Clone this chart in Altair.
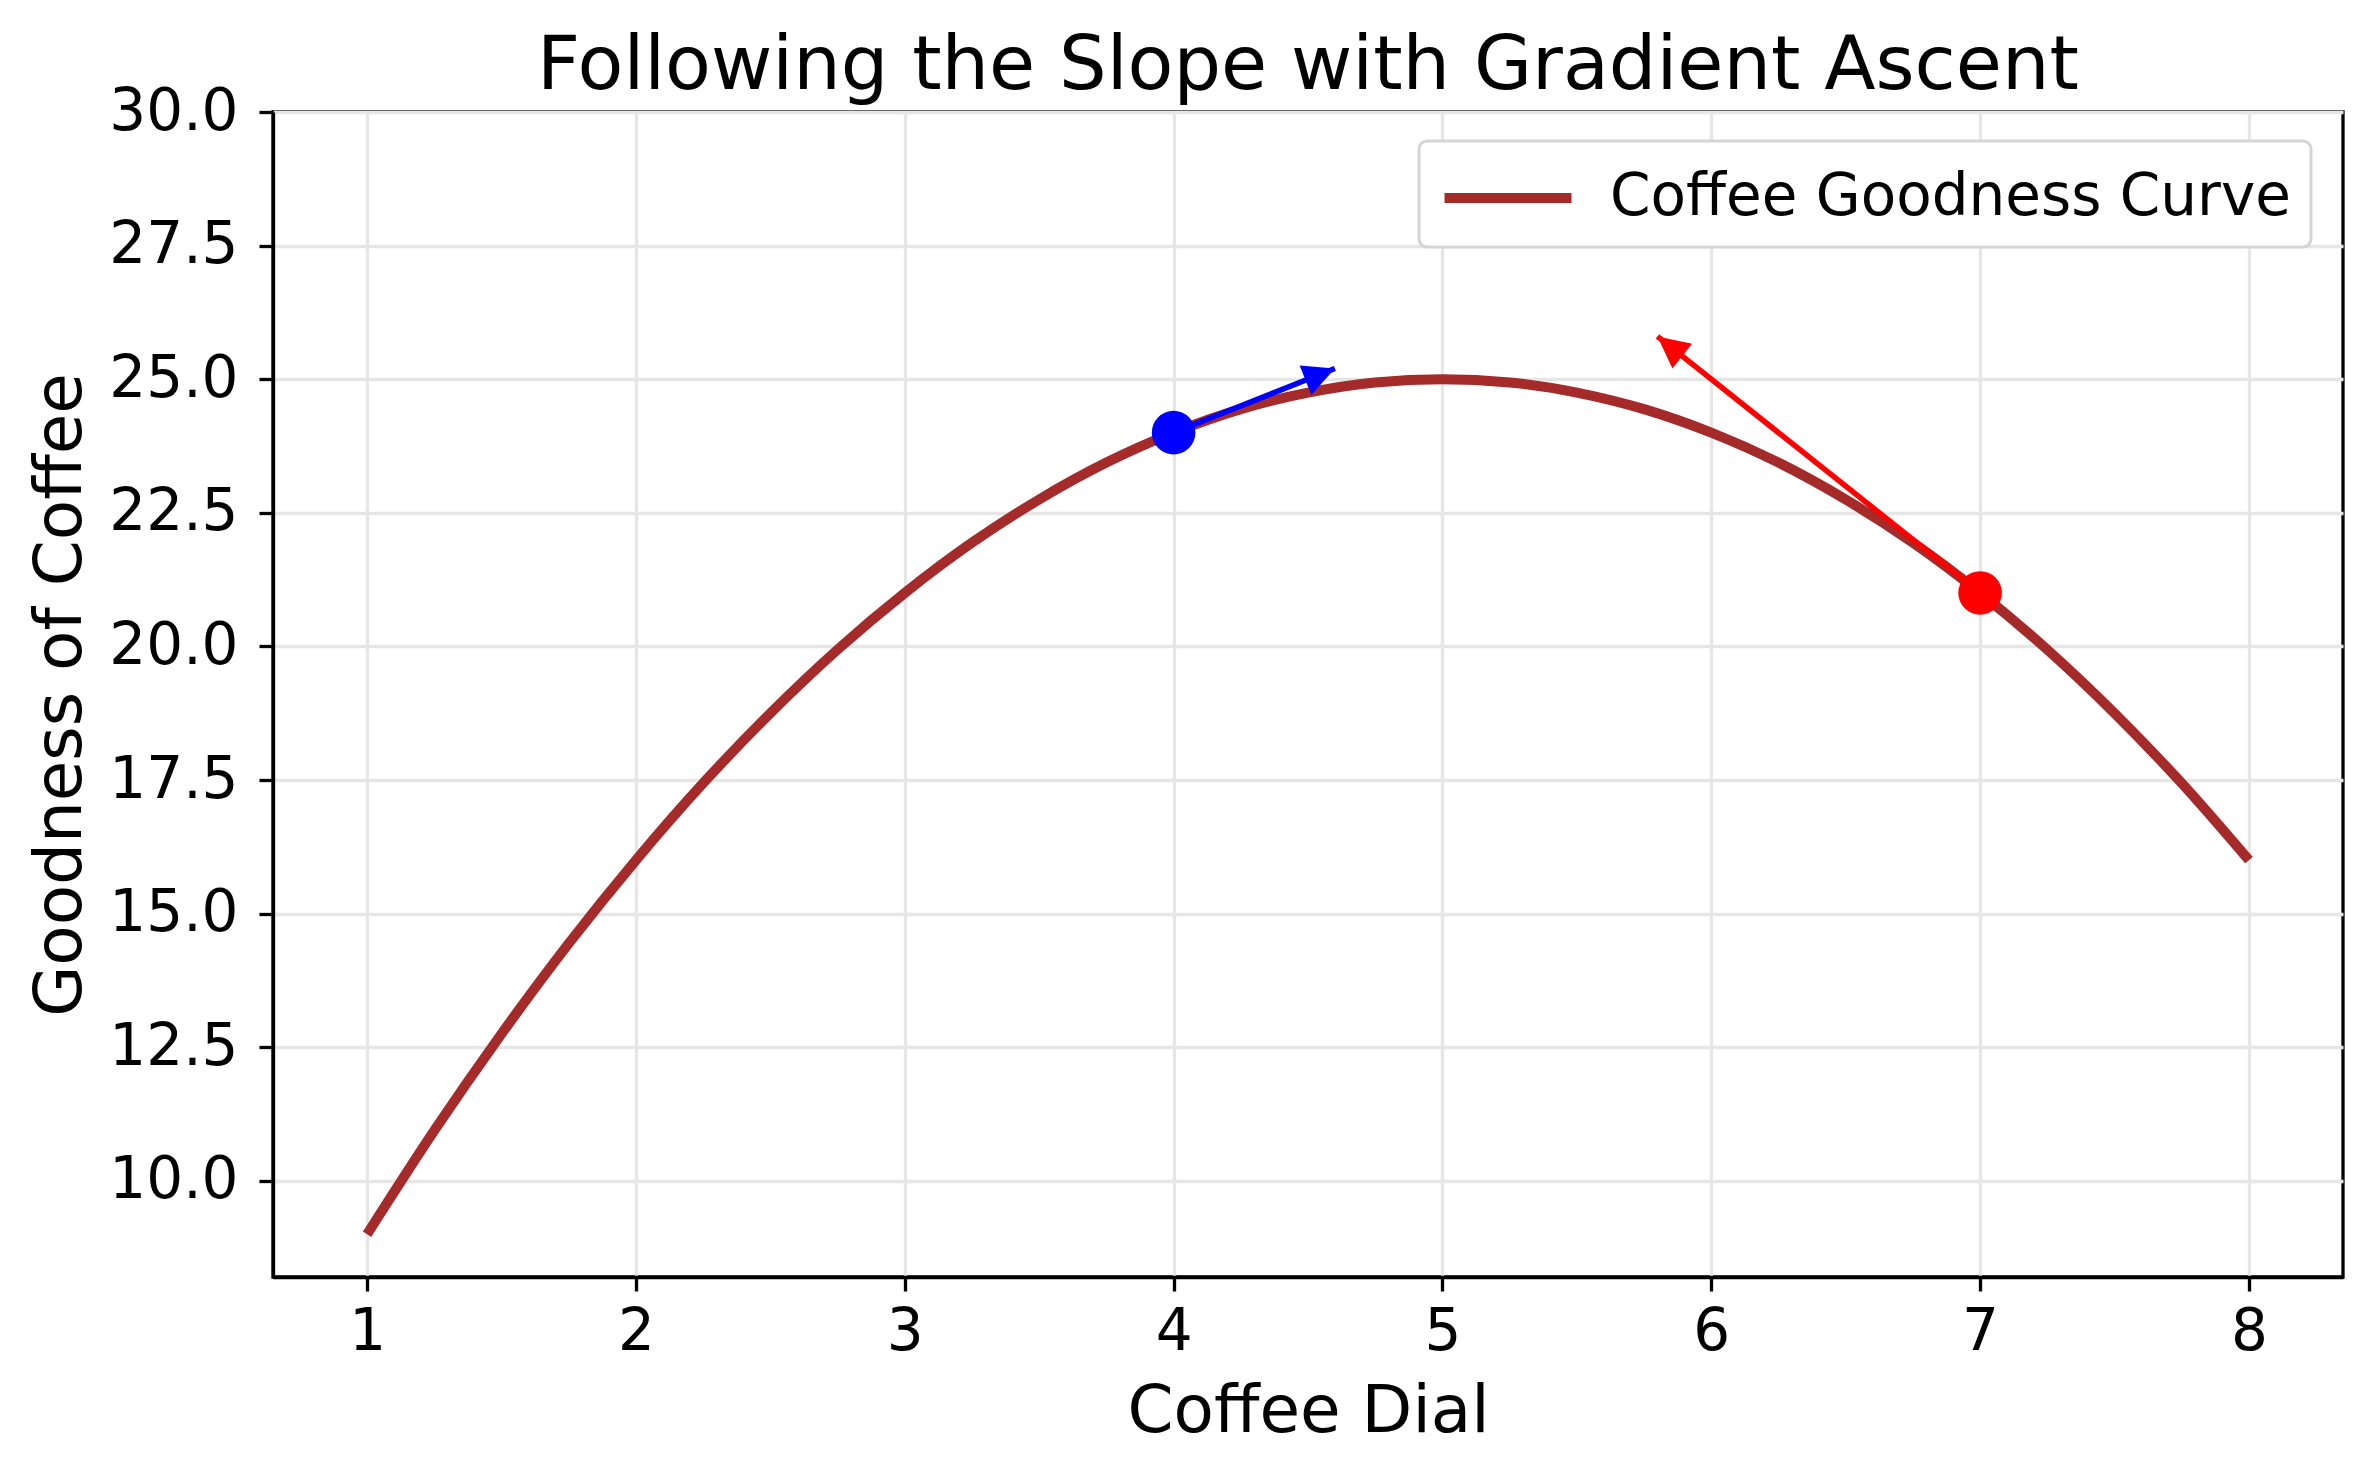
import math
import altair as alt
import pandas as pd

# ---- data ----
curve_x = [1.0, 1.25, 1.5, 1.75, 2.0, 2.25, 2.5, 2.75, 3.0, 3.25, 3.5, 3.75, 4.0, 4.25,
           4.5, 4.75, 5.0, 5.25, 5.5, 5.75, 6.0, 6.25, 6.5, 6.75, 7.0, 7.25, 7.5, 7.75, 8.0]
curve_y = [9.0, 10.94, 12.75, 14.44, 16.0, 17.44, 18.75, 19.94, 21.0, 21.94, 22.75, 23.44,
           24.0, 24.44, 24.75, 24.94, 25.0, 24.94, 24.75, 24.44, 24.0, 23.44, 22.75, 21.94,
           21.0, 19.94, 18.75, 17.44, 16.0]
series_name = ["Coffee Goodness Curve"]

point_x = [4.0, 7.0]
point_y = [24.0, 21.0]
point_color = ["#0000ff", "#ff0000"]
tip_x = [4.6, 5.8]
tip_y = [25.2, 25.8]

x_ticks = [1, 2, 3, 4, 5, 6, 7, 8]
y_ticks = [10.0, 12.5, 15.0, 17.5, 20.0, 22.5, 25.0, 27.5, 30.0]

X_DOM = [0.65, 8.35]
Y_DOM = [8.2, 30.0]
W, H = 2070, 1165
FONT = "DejaVu Sans"

curve_df = pd.DataFrame({"x": curve_x, "y": curve_y, "series": series_name * len(curve_x)})

sx = W / (X_DOM[1] - X_DOM[0])
sy = H / (Y_DOM[1] - Y_DOM[0])
angles = []
for px, py, tx, ty in zip(point_x, point_y, tip_x, tip_y):
    a = math.degrees(math.atan2((tx - px) * sx, (ty - py) * sy)) % 360
    angles.append(a)

arrow_df = pd.DataFrame({"x": point_x, "y": point_y, "tx": tip_x, "ty": tip_y,
                         "c": point_color, "angle": angles})

xs = alt.Scale(domain=X_DOM, nice=False, zero=False)
ys = alt.Scale(domain=Y_DOM, nice=False, zero=False)

x_axis = alt.Axis(values=x_ticks, format="d", labelPadding=12, title="Coffee Dial",
                  titleX=W / 2, titleY=154, titleBaseline="alphabetic", titleAlign="center")
y_axis = alt.Axis(values=y_ticks, format=".1f", labelPadding=21, title="Goodness of Coffee",
                  titleX=-213, titleY=H / 2, titleBaseline="middle", titleAlign="center",
                  titleAngle=270)

curve = alt.Chart(curve_df).mark_line(strokeWidth=10, interpolate="monotone").encode(
    x=alt.X("x:Q", scale=xs, axis=x_axis),
    y=alt.Y("y:Q", scale=ys, axis=y_axis),
    color=alt.Color("series:N",
                    scale=alt.Scale(domain=series_name, range=["#a52a2a"]),
                    legend=alt.Legend(title=None, orient="none", legendX=1146, legendY=29,
                                      symbolType="M-2,0L2,0", symbolStrokeWidth=10,
                                      symbolSize=4032, symbolOffset=32,
                                      labelFontSize=58, labelFont=FONT, labelLimit=3000,
                                      labelColor="black", labelOffset=65, padding=20,
                                      strokeColor="#d5d5d5", fillColor="white",
                                      cornerRadius=8)),
)

shafts = alt.Chart(arrow_df).mark_rule(strokeWidth=5.5).encode(
    x=alt.X("x:Q", scale=xs), y=alt.Y("y:Q", scale=ys),
    x2="tx:Q", y2="ty:Q",
    color=alt.Color("c:N", scale=None, legend=None),
)

heads = alt.Chart(arrow_df).mark_point(
    shape="M0,0 L-0.5,1 L0.5,1 Z", filled=True, size=4000, opacity=1
).encode(
    x=alt.X("tx:Q", scale=xs), y=alt.Y("ty:Q", scale=ys),
    angle=alt.Angle("angle:Q", scale=None),
    color=alt.Color("c:N", scale=None, legend=None),
)

points = alt.Chart(arrow_df).mark_circle(size=1900, opacity=1).encode(
    x=alt.X("x:Q", scale=xs), y=alt.Y("y:Q", scale=ys),
    color=alt.Color("c:N", scale=None, legend=None),
)

chart = alt.layer(curve, shafts, heads, points).resolve_scale(color="independent").properties(
    width=W, height=H, background="white",
    title=alt.TitleParams("Following the Slope with Gradient Ascent", font=FONT, fontSize=75,
                          fontWeight="normal", color="black", anchor="middle",
                          baseline="alphabetic", offset=0, dy=81),
    autosize=alt.AutoSizeParams(type="none"),
    padding={"left": 265, "top": 104, "right": 20, "bottom": 180},
).configure_view(stroke="black", strokeWidth=3.3).configure_axis(
    domainColor="black", domainWidth=3.3, tickColor="black", tickWidth=3.3, tickSize=14,
    labelFont=FONT, labelFontSize=58, labelColor="black",
    grid=True, gridColor="#e6e6e6", gridWidth=3.3,
    titleFont=FONT, titleFontSize=66, titleFontWeight="normal", titleColor="black",
).configure_legend(strokeWidth=3)

chart.save("out.html", embed_options={"renderer": "svg", "actions": False})
